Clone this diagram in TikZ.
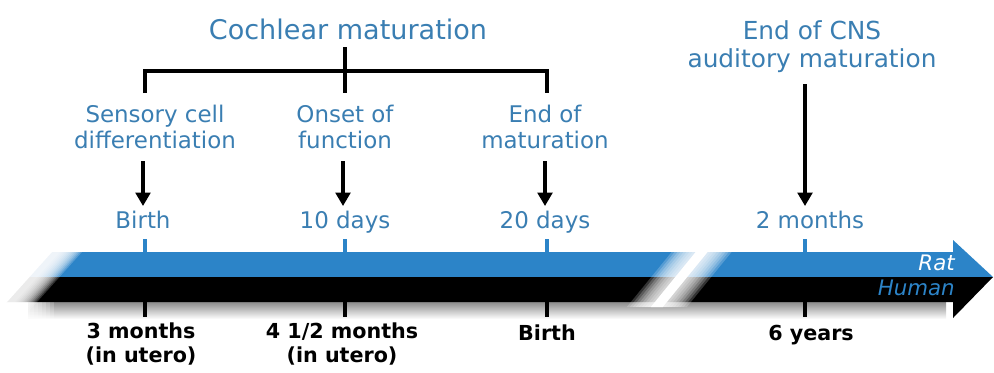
\documentclass[tikz,border=0pt]{standalone}
\usepackage{fontspec}
\setmainfont{DejaVu Sans}
\usetikzlibrary{arrows.meta}
\definecolor{tblue}{RGB}{58,126,178}
\definecolor{bandblue}{RGB}{44,132,200}
\begin{document}
\begin{tikzpicture}[x=0.75pt,y=-0.75pt,
  lab/.style={text=tblue, font=\fontsize{17.2}{18.8}\selectfont, align=center, inner sep=0pt},
  cnslab/.style={text=tblue, font=\fontsize{18.6}{21}\selectfont, align=center, inner sep=0pt},
  ttl/.style={text=tblue, font=\fontsize{20.3}{22}\selectfont, align=center, inner sep=0pt},
  bot/.style={text=black, font=\bfseries\fontsize{15.5}{17.3}\selectfont, align=center, inner sep=0pt},
  arr/.style={line width=2.3pt, -{Triangle[length=10pt,width=11pt]}},
  brk/.style={line width=2.3pt},
  uptick/.style={line width=2.3pt, draw=bandblue},
  dntick/.style={line width=2.3pt, draw=black},
  bandlab/.style={font=\itshape\fontsize{16}{18}\selectfont, anchor=base east, inner sep=0pt},
]
\useasboundingbox (0,0) rectangle (994,372);

% ---------- texts ----------
\node[ttl, anchor=base] (title) at (348,39) {Cochlear maturation};
\node[cnslab, anchor=base] (cns) at (812,67) {End of CNS\\auditory maturation};
\node[lab, anchor=base] (sens) at (155,148) {Sensory cell\\differentiation};
\node[lab, anchor=base] (onset) at (345,148) {Onset of\\function};
\node[lab, anchor=base] (endm) at (545,148) {End of\\maturation};
\node[lab, anchor=base] (r1) at (143,228) {Birth};
\node[lab, anchor=base] (r2) at (345,228) {10 days};
\node[lab, anchor=base] (r3) at (545,228) {20 days};
\node[lab, anchor=base] (r4) at (810,228) {2 months};

\node[bot, anchor=base] (h1) at (141,362) {3 months\\(in utero)};
\node[bot, anchor=base] (h2) at (342,362) {4 1/2 months\\(in utero)};
\node[bot, anchor=base] (h3) at (547,340) {Birth};
\node[bot, anchor=base] (h4) at (811,340) {6 years};

% ---------- bracket ----------
\coordinate (bt) at (345,47);
\coordinate (bl) at (145,71);
\coordinate (br) at (547,71);
\coordinate (blb) at (145,93);
\coordinate (bmb) at (345,93);
\coordinate (brb) at (547,93);
\draw[brk] (bt) -- (bmb);
\draw[brk] (blb) -- (bl) -- (br) -- (brb);

% ---------- arrows ----------
\coordinate (a1) at (143,161);
\coordinate (a2) at (343,161);
\coordinate (a3) at (545,161);
\coordinate (a4) at (805,84);
\coordinate (e1) at (143,206);
\coordinate (e2) at (343,206);
\coordinate (e3) at (545,206);
\coordinate (e4) at (805,206);
\draw[arr] (a1) -- (e1);
\draw[arr] (a2) -- (e2);
\draw[arr] (a3) -- (e3);
\draw[arr] (a4) -- (e4);

% ---------- shadow ----------
\shade[top color=black!45, bottom color=white] (28,302) rectangle (946,319);
\foreach \d in {0,4,...,24}{
  \fill[white, fill opacity=0.2] (0,300) rectangle ({30+\d},320);
}

% ---------- bands ----------
\fill[bandblue] (0,252) -- (953,252) -- (953,240) -- (993,277) -- (0,277) -- cycle;
\fill[black] (0,277) -- (993,277) -- (953,318) -- (953,302) -- (0,302) -- cycle;

% left soft end (edge x = 60 - 0.9*(y-252))
\foreach \d in {22,20,...,0}{
  \fill[white, fill opacity=0.2] (-2,240) -- ({70.8+\d},240) -- ({0.6+\d},318) -- (-2,318) -- cycle;
}
\fill[white] (-2,240) -- (62.8,240) -- (-7.4,318) -- (-2,318) -- cycle;

% gap (centre x = 703 - 0.7*(y-252))
\foreach \d in {30,27,...,9}{
  \fill[white, fill opacity=0.2] ({711.4-\d},240) -- ({711.4+\d},240) -- ({656.8+\d},307) -- ({656.8-\d},307) -- cycle;
}
\fill[white] (705.4,240) -- (717.4,240) -- (662.8,307) -- (650.8,307) -- cycle;

% ---------- ticks ----------
\coordinate (u1) at (145,239); \coordinate (u1b) at (145,252);
\coordinate (u2) at (345,239); \coordinate (u2b) at (345,252);
\coordinate (u3) at (547,239); \coordinate (u3b) at (547,252);
\coordinate (u4) at (805,239); \coordinate (u4b) at (805,252);
\draw[uptick] (u1) -- (u1b);
\draw[uptick] (u2) -- (u2b);
\draw[uptick] (u3) -- (u3b);
\draw[uptick] (u4) -- (u4b);
\coordinate (d1) at (145,302); \coordinate (d1b) at (145,317);
\coordinate (d2) at (345,302); \coordinate (d2b) at (345,317);
\coordinate (d3) at (547,302); \coordinate (d3b) at (547,317);
\coordinate (d4) at (805,302); \coordinate (d4b) at (805,317);
\draw[dntick] (d1) -- (d1b);
\draw[dntick] (d2) -- (d2b);
\draw[dntick] (d3) -- (d3b);
\draw[dntick] (d4) -- (d4b);

% ---------- band labels ----------
\node[bandlab, text=white] (rat) at (955,270) {Rat};
\node[bandlab, text=bandblue] (human) at (955,295) {Human};
\end{tikzpicture}
\end{document}
